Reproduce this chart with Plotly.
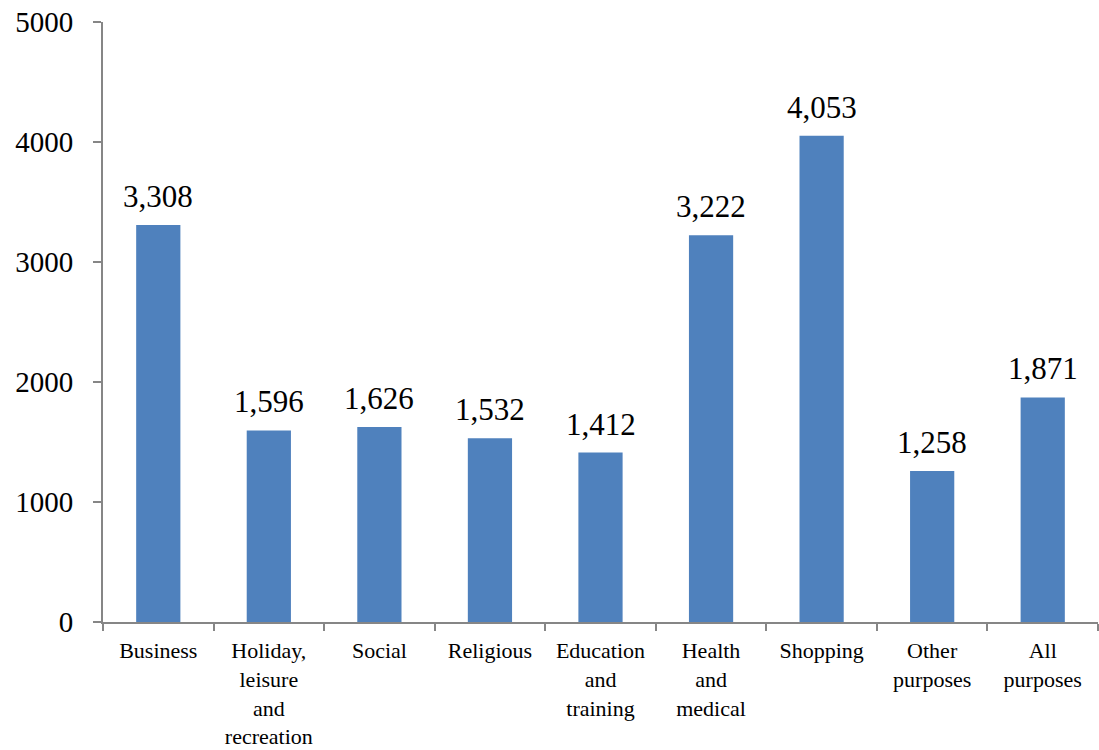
import plotly.graph_objects as go

categories = ["Business", "Holiday,<br>leisure<br>and<br>recreation", "Social", "Religious",
              "Education<br>and<br>training", "Health<br>and<br>medical", "Shopping",
              "Other<br>purposes", "All<br>purposes"]
values = [3308, 1596, 1626, 1532, 1412, 3222, 4053, 1258, 1871]
value_labels = [f"{v:,}" for v in values]
y_ticks = [0, 1000, 2000, 3000, 4000, 5000]

FONT = "Liberation Serif"
AXIS = "#868686"

fig = go.Figure(go.Bar(
    x=categories, y=values,
    marker=dict(color="#4F81BD", line=dict(width=0)),
    hoverinfo="x+y",
))

for c, v, t in zip(categories, values, value_labels):
    fig.add_annotation(x=c, y=v, text=t, showarrow=False, yanchor="bottom",
                       yshift=9, font=dict(family=FONT, size=31, color="black"))

fig.update_layout(
    width=1099, height=750,
    margin=dict(l=103, r=1, t=22, b=128),
    plot_bgcolor="white", paper_bgcolor="white",
    bargap=0.6, showlegend=False,
    font=dict(family=FONT, color="black"),
)
fig.update_xaxes(
    type="category", range=[-0.5, 8.5], showline=True, linecolor=AXIS, linewidth=2,
    ticks="outside", tickson="boundaries", ticklen=7, tickcolor=AXIS, tickwidth=2,
    tickfont=dict(family=FONT, size=22, color="black"), showgrid=False,
    tickangle=0, automargin=False, ticklabelstandoff=8,
)
fig.update_yaxes(
    range=[0, 5000], tickvals=y_ticks, showline=True, linecolor=AXIS, linewidth=2,
    ticks="outside", ticklen=8, tickcolor=AXIS, tickwidth=2, showgrid=False,
    zeroline=False, tickfont=dict(family=FONT, size=29, color="black"),
    ticklabelstandoff=14, automargin=False,
)

fig.write_html("out.html", config={"displayModeBar": False},
               post_script="document.body.style.margin='0';")
